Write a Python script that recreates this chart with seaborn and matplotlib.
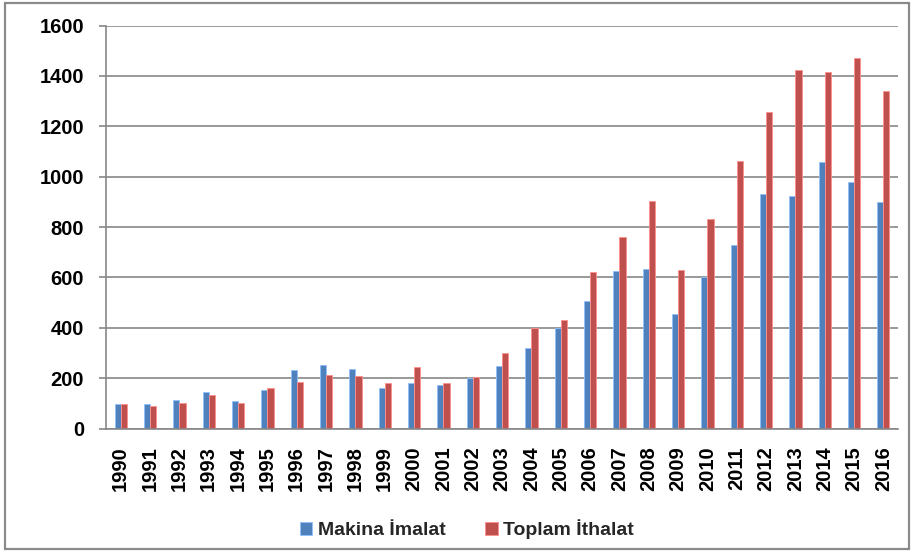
import matplotlib
matplotlib.use("Agg")
import matplotlib.pyplot as plt
import seaborn as sns
import pandas as pd
from matplotlib.patches import Rectangle

years = [str(y) for y in range(1990, 2017)]
makina_imalat = [99, 98, 114, 143, 109, 154, 234, 254, 238, 159, 182, 171, 201, 249, 319,
                 400, 506, 626, 633, 456, 600, 730, 930, 922, 1058, 978, 898]
toplam_ithalat = [99, 89, 102, 134, 103, 159, 184, 212, 207, 179, 245, 180, 204, 300, 400,
                  429, 622, 760, 905, 630, 830, 1061, 1258, 1422, 1415, 1470, 1340]
series_names = ["Makina İmalat", "Toplam İthalat"]
yticks = [0, 200, 400, 600, 800, 1000, 1200, 1400, 1600]

df = pd.DataFrame({
    "Yıl": years * 2,
    "Değer": makina_imalat + toplam_ithalat,
    "Seri": [series_names[0]] * len(years) + [series_names[1]] * len(years),
})

sns.set_theme(style="white")
plt.rcParams["font.family"] = ["Liberation Sans", "DejaVu Sans"]
plt.rcParams["font.weight"] = "bold"

fig = plt.figure(figsize=(9.14, 5.52), dpi=100)
ax = fig.add_axes([0.116, 0.2237, 0.8665, 0.7301])

palette = {series_names[0]: "#4F81BD", series_names[1]: "#C0504D"}
sns.barplot(data=df, x="Yıl", y="Değer", hue="Seri", palette=palette,
            width=0.42, gap=0, ax=ax, saturation=1, legend=True)
for p in ax.patches:
    fc = p.get_facecolor()
    p.set_edgecolor((min(fc[0] + 0.25, 1), min(fc[1] + 0.25, 1), min(fc[2] + 0.25, 1), 1))
    p.set_linewidth(0.6)

ax.set_xlim(-0.5, 26.5)
ax.set_ylim(0, 1600)
ax.set_yticks(yticks)
ax.set_yticklabels([str(v) for v in yticks])
ax.yaxis.grid(True, color="#878787", linewidth=1.2)
ax.set_axisbelow(True)
ax.set_xlabel("")
ax.set_ylabel("")

for s in ["top", "right"]:
    ax.spines[s].set_visible(False)
for s in ["left", "bottom"]:
    ax.spines[s].set_color("#878787")
    ax.spines[s].set_linewidth(1.2)

ax.tick_params(axis="y", which="major", left=True, length=4.7, width=1.2,
               color="#878787", pad=11, labelsize=14.5, labelcolor="black")
ax.tick_params(axis="x", which="major", bottom=False, length=0, pad=13,
               labelsize=14.5, labelcolor="black", rotation=90)
for lbl in ax.get_xticklabels() + ax.get_yticklabels():
    lbl.set_fontweight("bold")

handles, labels = ax.get_legend_handles_labels()
ax.legend_.remove()
fig.legend(handles, labels, loc="center", bbox_to_anchor=(467 / 914, 1 - 529 / 552),
           ncol=2, frameon=False, prop={"weight": "bold", "size": 14},
           handlelength=0.65, handleheight=0.65, handletextpad=0.3, columnspacing=2.0)

fig.patches.append(Rectangle((5 / 914, 3 / 552), 904 / 914, 546 / 552, transform=fig.transFigure,
                             fill=False, edgecolor="#8a8a8a", linewidth=1.6))

fig.savefig("out.png", dpi=100)
